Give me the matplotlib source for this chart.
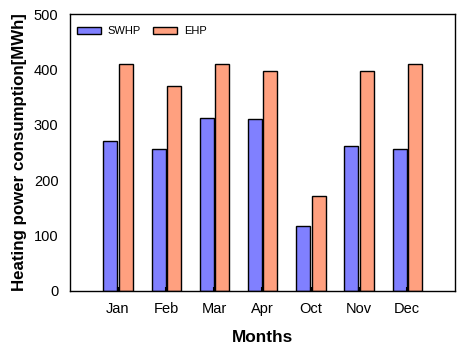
import matplotlib
matplotlib.use("Agg")
import matplotlib.pyplot as plt
import numpy as np

plt.rcParams['font.family'] = ['Liberation Sans', 'DejaVu Sans']

months = ["Jan", "Feb", "Mar", "Apr", "Oct", "Nov", "Dec"]
swhp = [270, 256, 312, 310, 117, 261, 256]
ehp = [409, 370, 409, 397, 171, 397, 409]
yticks = [0, 100, 200, 300, 400, 500]

fig = plt.figure(figsize=(4.64, 3.5), dpi=100)
ax = fig.add_axes([0.150, 0.169, 0.831, 0.791])

x = np.arange(1, len(months) + 1)
w = 0.29
ax.bar(x - 0.155, swhp, width=w, color='#8080FF', edgecolor='black', linewidth=1.0, label='SWHP')
ax.bar(x + 0.165, ehp, width=w, color='#FFA07F', edgecolor='black', linewidth=1.0, label='EHP')

ax.set_xlim(0, 8)
ax.set_ylim(0, 500)
ax.set_xticks(x)
ax.set_xticklabels(months, fontsize=10.5)
ax.set_yticks(yticks)
ax.set_yticklabels([str(v) for v in yticks], fontsize=10.5)
ax.tick_params(axis='x', direction='in', length=3, width=1.5, pad=8)
ax.tick_params(axis='y', length=0, pad=8)
for s in ax.spines.values():
    s.set_linewidth(1.0)

ax.set_xlabel('Months', fontsize=12.4, fontweight='bold', labelpad=10)
ax.set_ylabel('Heating power consumption[MWh]', fontsize=12.2, fontweight='bold', labelpad=5)

ax.legend(loc='upper left', ncol=2, frameon=False, fontsize=8,
          handlelength=2.16, handleheight=0.68, handletextpad=0.63,
          columnspacing=1.08, borderpad=0, borderaxespad=0,
          bbox_to_anchor=(0.019, 0.955))

fig.savefig('out.png', dpi=100)
